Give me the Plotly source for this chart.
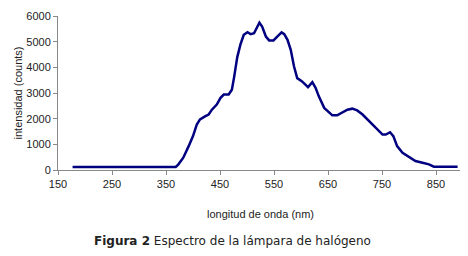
import plotly.graph_objects as go

wavelength = [177, 250, 300, 368, 373, 382, 392, 400, 407, 413, 423, 429, 435, 444, 451, 457, 466,
              472, 476, 482, 488, 494, 501, 507, 513, 519, 523, 528, 535, 541, 549, 556, 564, 569,
              575, 581, 587, 593, 602, 613, 621, 627, 633, 643, 652, 658, 667, 677, 686, 695, 704,
              714, 726, 738, 751, 757, 765, 771, 778, 788, 800, 812, 825, 837, 846, 870, 890]
intensity = [115, 115, 115, 118, 220, 480, 930, 1320, 1770, 1970, 2100, 2160, 2350, 2550, 2810, 2940, 2940,
             3130, 3600, 4400, 4900, 5270, 5370, 5290, 5330, 5590, 5740, 5590, 5200, 5050, 5050, 5200, 5360, 5290,
             5070, 4680, 4040, 3580, 3450, 3230, 3420, 3200, 2870, 2420, 2230, 2130, 2130, 2260, 2350, 2390, 2320,
             2160, 1900, 1640, 1380, 1380, 1470, 1320, 930, 670, 520, 350, 280, 220, 130, 125, 125]

x_ticks = [150, 250, 350, 450, 550, 650, 750, 850]
y_ticks = [0, 1000, 2000, 3000, 4000, 5000, 6000]

fig = go.Figure()
fig.add_trace(go.Scatter(x=wavelength, y=intensity, mode="lines",
                         line=dict(color="#000080", width=2.5, shape="linear"),
                         showlegend=False, hoverinfo="skip"))

axis_font = dict(family="Liberation Sans, Arial, sans-serif", size=11, color="#222222")
title_font = dict(family="Liberation Sans Narrow, Liberation Sans, sans-serif", size=11, color="#222222")

fig.update_layout(
    width=468, height=256,
    margin=dict(l=50, r=13, t=8, b=94),
    paper_bgcolor="white", plot_bgcolor="white",
    xaxis=dict(range=[150, 900], tickvals=x_ticks, ticktext=[str(v) for v in x_ticks],
               showgrid=False, zeroline=False, showline=True, linecolor="#888888", linewidth=1,
               ticks="outside", ticklen=4, tickcolor="#888888", tickfont=axis_font, automargin=False,
               title=dict(text="longitud de onda (nm)", font=title_font, standoff=21)),
    yaxis=dict(range=[0, 6000], tickvals=y_ticks, showgrid=False, zeroline=False,
               showline=True, linecolor="#888888", linewidth=1, automargin=False,
               ticks="outside", ticklen=4, tickcolor="#888888", tickfont=axis_font,
               title=dict(text="intensidad (counts)", font=title_font, standoff=1)),
)

fig.add_annotation(text="<b>Figura 2</b> Espectro de la lámpara de halógeno",
                   xref="paper", yref="paper", x=0.432, y=-0.461, xanchor="center", yanchor="middle",
                   showarrow=False, font=dict(family="DejaVu Sans, sans-serif", size=12, color="#222222"))

fig.write_html("out.html")
